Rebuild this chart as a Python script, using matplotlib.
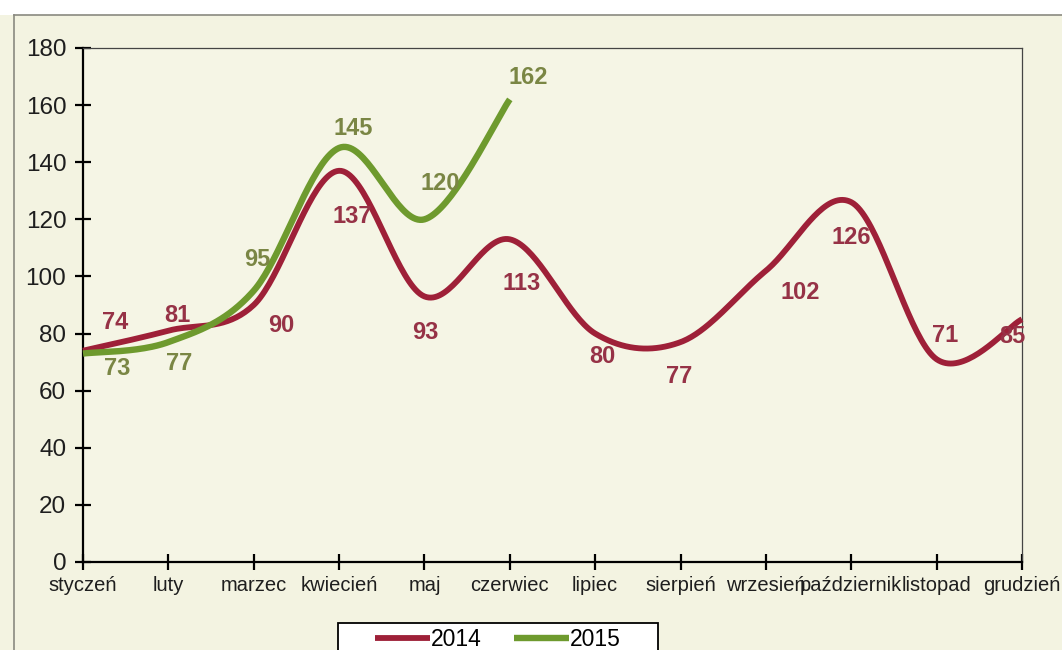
import numpy as np
import matplotlib
matplotlib.use("Agg")
import matplotlib.pyplot as plt
from matplotlib.lines import Line2D
from matplotlib.patches import Rectangle

plt.rcParams['font.family'] = ['Liberation Sans', 'DejaVu Sans']

# dane
miesiace = ['styczeń', 'luty', 'marzec', 'kwiecień', 'maj', 'czerwiec',
            'lipiec', 'sierpień', 'wrzesień', 'październik', 'listopad', 'grudzień']
wartosci_2014 = [74, 81, 90, 137, 93, 113, 80, 77, 102, 126, 71, 85]
wartosci_2015 = [73, 77, 95, 145, 120, 162]
lata = ['2014', '2015']

# przesuniecia etykiet (piksele) - tylko uklad
etyk_2014 = [(32, 28), (9, 15), (28, -21), (13, -46), (1, -36), (12, -44),
             (7, -23), (-1, -34), (34, -22), (0, -35), (8, 24), (-10, -17)]
etyk_2015 = [(34, -15), (11, -21), (4, 31), (14, 19), (16, 36), (18, 22)]

KOLOR_2014 = '#9E2038'
KOLOR_2015 = '#6E9A2E'
TLO = '#F3F3E1'


def wygladz(xs, ys, n=40):
    # krzywe Beziera jak "wygladzona linia" w Excelu
    pts = np.column_stack([xs, ys]).astype(float)
    P = np.vstack([pts[0], pts, pts[-1]])
    out = []
    t = np.linspace(0, 1, n)[:, None]
    for i in range(len(pts) - 1):
        p0, p1, p2, p3 = P[i], P[i + 1], P[i + 2], P[i + 3]
        c1 = p1 + (p2 - p0) / 6.0
        c2 = p2 - (p3 - p1) / 6.0
        seg = (1 - t)**3 * p1 + 3 * (1 - t)**2 * t * c1 + 3 * (1 - t) * t**2 * c2 + t**3 * p2
        out.append(seg if i == 0 else seg[1:])
    return np.vstack(out)


fig = plt.figure(figsize=(10.62, 6.5), dpi=100, facecolor=TLO)
ax = fig.add_axes([83 / 1062, 1 - 562 / 650, (1022 - 83) / 1062, (562 - 48) / 650])
ax.set_facecolor('#F5F5E5')

# pasek u gory i ramka wykresu
fig.add_artist(Rectangle((0, 1 - 15 / 650), 1, 15 / 650, transform=fig.transFigure,
                         facecolor='white', edgecolor='none', zorder=0))
fig.add_artist(Line2D([14 / 1062, 1], [1 - 15 / 650, 1 - 15 / 650], transform=fig.transFigure,
                      color='#8A8A80', lw=1.2))
fig.add_artist(Line2D([14 / 1062, 14 / 1062], [0, 1 - 15 / 650], transform=fig.transFigure,
                      color='#8A8A80', lw=1.2))

x14 = np.arange(len(wartosci_2014))
x15 = np.arange(len(wartosci_2015))
s14 = wygladz(x14, wartosci_2014)
s15 = wygladz(x15, wartosci_2015)

ax.plot(s14[:, 0], s14[:, 1], color=KOLOR_2014, lw=4.2, solid_capstyle='butt',
        clip_on=False, zorder=3, label=lata[0])
ax.plot(s15[:, 0], s15[:, 1], color=KOLOR_2015, lw=4.6, solid_capstyle='butt',
        clip_on=False, zorder=4, label=lata[1])

for xi, v, off in zip(x14, wartosci_2014, etyk_2014):
    ax.annotate(str(v), (xi, v), xytext=off, textcoords='offset pixels',
                ha='center', va='center', fontsize=17, fontweight='bold',
                color='#963246', zorder=5, annotation_clip=False)
for xi, v, off in zip(x15, wartosci_2015, etyk_2015):
    ax.annotate(str(v), (xi, v), xytext=off, textcoords='offset pixels',
                ha='center', va='center', fontsize=17, fontweight='bold',
                color='#7A8644', zorder=5, annotation_clip=False)

ax.set_xlim(0, len(miesiace) - 1)
ax.set_ylim(0, 180)
ax.set_xticks(np.arange(len(miesiace)))
ax.set_xticklabels(miesiace)
ax.set_yticks(np.arange(0, 181, 20))

ax.tick_params(axis='both', direction='inout', length=12, width=1.6, colors='black')
ax.tick_params(axis='x', labelsize=14.5, pad=4, labelcolor='#1E1E1E')
ax.tick_params(axis='y', labelsize=17.5, pad=6, labelcolor='#1E1E1E')

for s in ['left', 'bottom']:
    ax.spines[s].set_linewidth(1.6)
    ax.spines[s].set_color('black')
for s in ['top', 'right']:
    ax.spines[s].set_linewidth(0.9)
    ax.spines[s].set_color('#444444')

leg = ax.legend(loc='upper center', bbox_to_anchor=(498 / 1062, 1 - 623 / 650),
                bbox_transform=fig.transFigure, ncol=2, frameon=True, fancybox=False,
                fontsize=16.5, handlelength=2.4, handletextpad=0.05, columnspacing=1.4,
                borderpad=0.2, borderaxespad=0)
ramka = leg.get_frame()
ramka.set_edgecolor('black')
ramka.set_linewidth(1.3)
ramka.set_facecolor('white')
ramka.set_alpha(1)
ramka.set_boxstyle('square', pad=1.4)
ramka.set_mutation_aspect(0.01)

fig.savefig('out.png', dpi=100, facecolor=TLO)
